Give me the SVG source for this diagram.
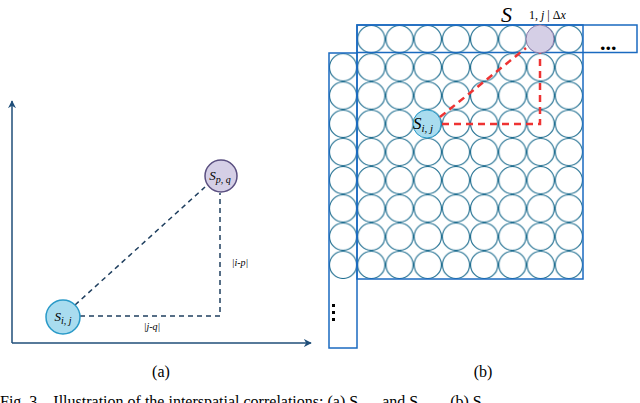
<svg xmlns="http://www.w3.org/2000/svg" width="640" height="403" viewBox="0 0 640 403">
<defs>
<marker id="ar" viewBox="0 0 10 10" refX="9" refY="5" markerWidth="8" markerHeight="8" orient="auto" markerUnits="userSpaceOnUse"><path d="M0,0 L10,5 L0,10 L3,5 z" fill="#1f4e79"/></marker>
<pattern id="cells" x="329" y="25" width="28.22" height="28.22" patternUnits="userSpaceOnUse"><circle cx="14.11" cy="14.11" r="13.6" fill="#fff" stroke="#1f6e90" stroke-width="1.1"/></pattern>
</defs>
<style>
.t{font-family:"Liberation Serif",serif;fill:#000}
.ax{stroke:#1f4e79;stroke-width:1.5;fill:none}
.dk{stroke:#1f3f5f;stroke-width:1.5;stroke-dasharray:5,4;fill:none}
.rd{stroke:#ee3333;stroke-width:2.5;stroke-dasharray:7,5;fill:none}
.bx{fill:none;stroke:#1a6ac0;stroke-width:1.5}
</style>
<rect width="640" height="403" fill="#fff"/>
<g id="axes">
<line class="ax" x1="12" y1="343" x2="12" y2="101" marker-end="url(#ar)"/>
<line class="ax" x1="12" y1="343" x2="311" y2="343" marker-end="url(#ar)"/>
</g>
<g id="grid">
<rect x="357" y="25" width="225.8" height="28.22" fill="url(#cells)"/>
<rect x="329" y="53.2" width="253.8" height="225.8" fill="url(#cells)"/>
<rect class="bx" x="357" y="25" width="280" height="27.5"/>
<rect class="bx" x="329" y="53" width="28" height="295"/>
<rect class="bx" x="357" y="25" width="226" height="254" stroke="#2a6a9a"/>
<text class="t" x="600" y="50" font-size="22" font-weight="bold">...</text>
<g fill="#000"><rect x="332" y="304" width="3" height="3"/><rect x="332" y="311" width="3" height="3"/><rect x="332" y="318" width="3" height="3"/></g>
</g>
<g id="connectors">
<line class="dk" x1="75" y1="305" x2="205" y2="187"/>
<polyline class="dk" points="80,316 220,316 220,193"/>
<line class="rd" x1="440" y1="117" x2="526" y2="48"/>
<polyline class="rd" points="442,124 540,124 540,53"/>
</g>
<g id="n-sij-a"><circle cx="63" cy="317" r="17" fill="#a9dcef" stroke="#2a9ac8" stroke-width="1.5"/><text class="t" x="63" y="321" font-size="13" text-anchor="middle" font-style="italic">S<tspan font-size="10" dy="3">i, j</tspan></text></g>
<g id="n-spq-a"><circle cx="221" cy="176" r="16" fill="#d5cfe6" stroke="#5a4f80" stroke-width="1.5"/><text class="t" x="220" y="180" font-size="13" text-anchor="middle" font-style="italic">S<tspan font-size="10" dy="3">p, q</tspan></text></g>
<text class="t" x="240" y="266" font-size="10" text-anchor="middle" font-style="italic">|i-p|</text>
<text class="t" x="152" y="330" font-size="10" text-anchor="middle" font-style="italic">|j-q|</text>
<g id="n-sij-b"><circle cx="427" cy="124" r="14" fill="#a9dcef" stroke="#2a9ac8" stroke-width="1"/><text class="t" x="413" y="129" font-size="17" font-style="italic">S<tspan font-size="11" dy="3">i, j</tspan></text></g>
<g id="n-s-top"><circle cx="540" cy="39" r="14" fill="#d5cfe6" stroke="#8a7aa8" stroke-width="1"/></g>
<text class="t" x="501" y="22" font-size="22" font-style="italic">S</text>
<text class="t" x="529" y="19" font-size="12">1, <tspan font-style="italic">j</tspan> | Δ<tspan font-style="italic">x</tspan></text>
<text class="t" x="161" y="377" font-size="16" text-anchor="middle">(a)</text>
<text class="t" x="483" y="377" font-size="16" text-anchor="middle">(b)</text>
<text class="t" x="0" y="407" font-size="16" xml:space="preserve">Fig. 3.   Illustration of the interspatial correlations: (a) S      and S      . (b) S</text>
</svg>
